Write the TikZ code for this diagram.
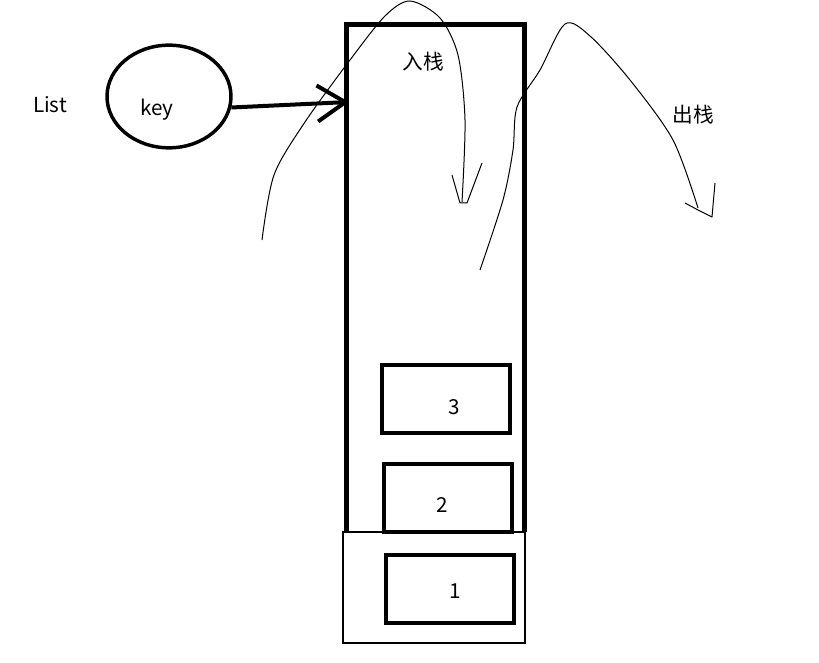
\documentclass[tikz,border=0pt]{standalone}
\usepackage{fontspec}
\setmainfont{Noto Sans CJK SC}
\usetikzlibrary{shapes.geometric,arrows.meta}

\begin{document}
\begin{tikzpicture}[x=0.75pt,y=-0.75pt,
  font=\fontsize{15.5}{18}\selectfont,
  cell/.style={draw,rectangle,line width=3pt,minimum width=96pt,minimum height=51pt,inner sep=0pt},
  hand/.style={line width=0.75pt,line join=round}]
\useasboundingbox (0,0) rectangle (819,663);
% the stack
\draw [line width=3.75pt] (346,532) -- (346,24.5) -- (524,24.5) -- (524,532);
\draw [line width=1pt] (343,532) rectangle (525,643);
\coordinate (stackin) at (349,102);
\node [cell] (c3) at (446,399) {};
\node [cell] (c2) at (447.5,498) {};
\node [cell] (c1) at (449.5,588.5) {};
\node at (454,407) {3};
\node at (442,505) {2};
\node at (455,591) {1};
% list and key
\node at (50,105) {List};
\node [draw,ellipse,line width=2.6pt,minimum width=93pt,minimum height=77pt] (keynode) at (169,96.5) {};
\node at (157,110) {key};
\draw [line width=3pt,-{Straight Barb[length=21pt,width=27pt,line width=3pt]}] (keynode.-10) -- (stackin);
% push
\draw [hand] plot [smooth] coordinates {(262,240) (274,175) (305,122) (350,60) (385,16) (410,1) (440,18) (458,55) (465,120) (462,202)};
\draw [hand] (452,175) -- (460,203) -- (467,203) -- (482,163);
\node at (423,62) {入栈};
% pop
\draw [hand] plot [smooth] coordinates {(480,270) (503,200) (513,150) (517,107) (540,70) (565,24) (590,36) (630,80) (673,140) (698,208)};
\draw [hand] (685,203) -- (698,210) -- (712,217) -- (715,183);
\node at (693,115) {出栈};
\end{tikzpicture}
\end{document}
